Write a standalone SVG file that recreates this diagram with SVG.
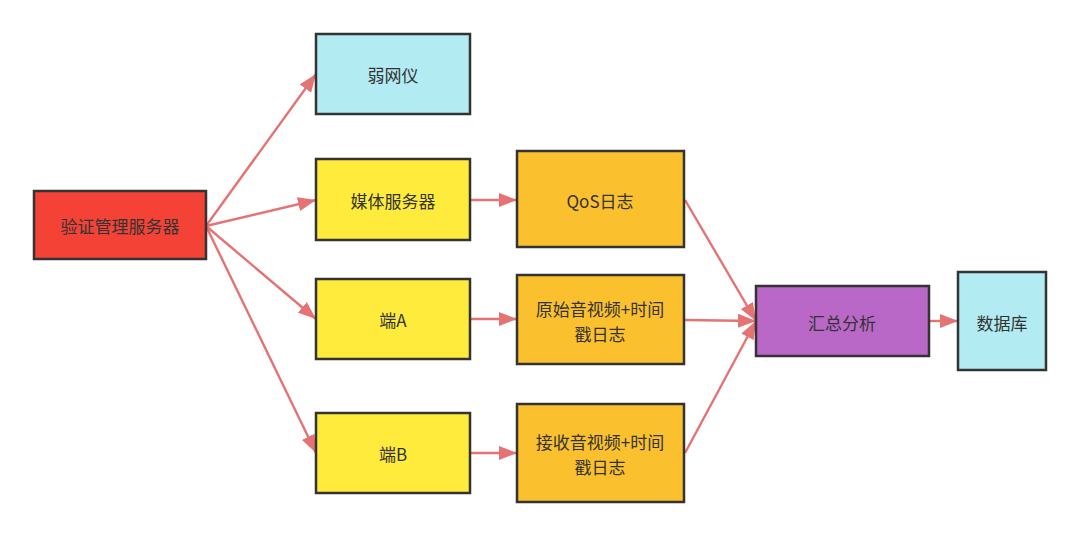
<svg xmlns="http://www.w3.org/2000/svg" width="1080" height="536" viewBox="0 0 1080 536">
<style>
.n rect{stroke:#333;stroke-width:2.5}
.n text{font-family:"Noto Sans CJK SC","Liberation Sans",sans-serif;font-size:17px;fill:#333;text-anchor:middle;dominant-baseline:central}
.e path{fill:none;stroke:#e57373;stroke-width:2.4}
</style>
<defs>
<marker id="ah" markerUnits="userSpaceOnUse" markerWidth="20" markerHeight="14" refX="18" refY="7" orient="auto">
<path d="M0,0 L18,7 L0,14 Z" fill="#e57373"/>
</marker>
</defs>
<rect width="1080" height="536" fill="#fff"/>
<g class="e" id="connectors">
<path d="M206,226 L316,74" marker-end="url(#ah)"/>
<path d="M206,226 L316,200" marker-end="url(#ah)"/>
<path d="M206,226 L316,319" marker-end="url(#ah)"/>
<path d="M206,226 L316,453" marker-end="url(#ah)"/>
<path d="M470,200 L517,200" marker-end="url(#ah)"/>
<path d="M470,319 L517,319" marker-end="url(#ah)"/>
<path d="M470,453 L517,453" marker-end="url(#ah)"/>
<path d="M685,200 L756,321" marker-end="url(#ah)"/>
<path d="M685,320 L756,321" marker-end="url(#ah)"/>
<path d="M685,453 L756,321" marker-end="url(#ah)"/>
<path d="M929,321 L958,321" marker-end="url(#ah)"/>
</g>
<g class="n" id="auth"><rect x="34" y="191" width="172" height="68" fill="#f44336"/><text x="120" y="225">验证管理服务器</text></g>
<g class="n" id="weaknet"><rect x="316" y="34" width="154" height="80" fill="#b2ebf2"/><text x="393" y="74">弱网仪</text></g>
<g class="n" id="media"><rect x="316" y="159" width="154" height="81" fill="#ffeb3b"/><text x="393" y="200">媒体服务器</text></g>
<g class="n" id="clientA"><rect x="316" y="279" width="154" height="80" fill="#ffeb3b"/><text x="393" y="319">端A</text></g>
<g class="n" id="clientB"><rect x="316" y="413" width="154" height="80" fill="#ffeb3b"/><text x="393" y="453">端B</text></g>
<g class="n" id="qos"><rect x="517" y="151" width="167" height="96" fill="#fbc02d"/><text x="600" y="200">QoS日志</text></g>
<g class="n" id="raw"><rect x="517" y="275" width="167" height="89" fill="#fbc02d"/><text x="600" y="308">原始音视频+时间</text><text x="600" y="333">戳日志</text></g>
<g class="n" id="recv"><rect x="517" y="404" width="167" height="98" fill="#fbc02d"/><text x="600" y="441">接收音视频+时间</text><text x="600" y="466">戳日志</text></g>
<g class="n" id="summary"><rect x="756" y="286" width="173" height="70" fill="#ba68c8"/><text x="842" y="322">汇总分析</text></g>
<g class="n" id="db"><rect x="958" y="272" width="88" height="98" fill="#b2ebf2"/><text x="1002" y="322">数据库</text></g>
</svg>
